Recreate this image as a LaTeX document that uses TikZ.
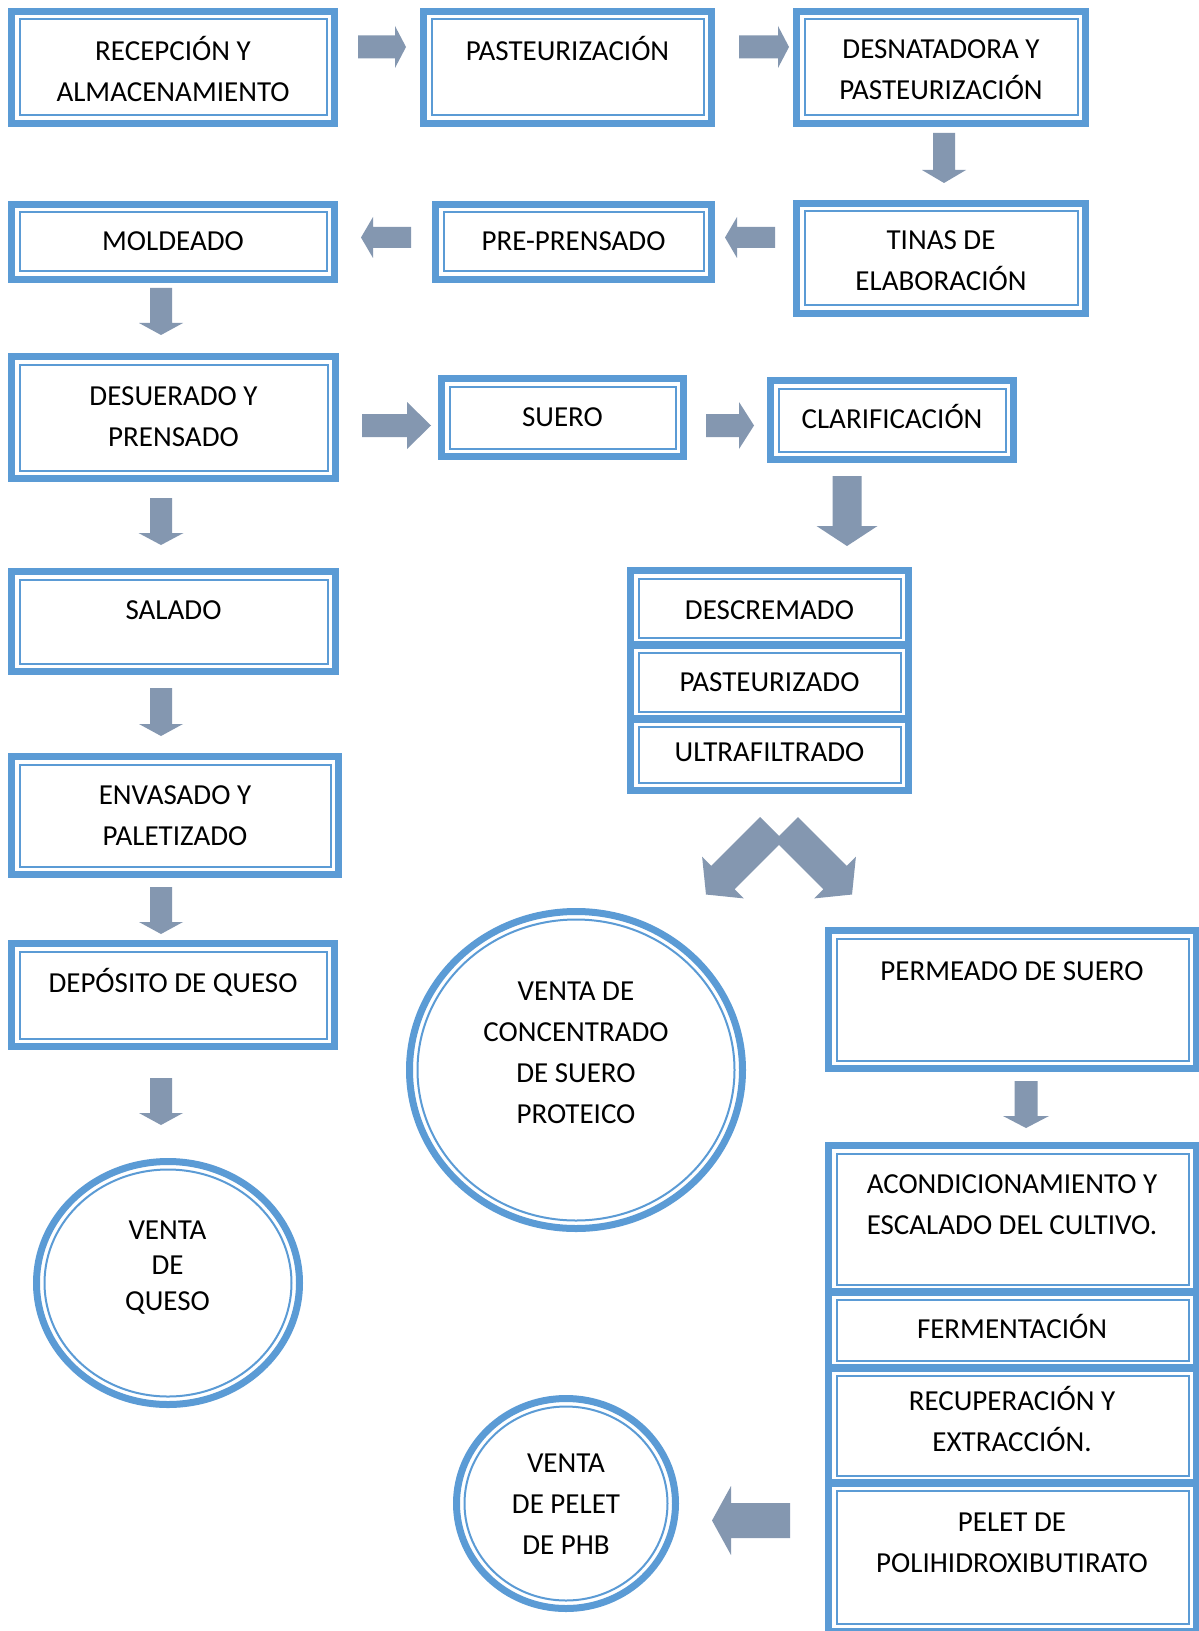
\documentclass[tikz,border=0pt]{standalone}
\usepackage{fontspec}
\setmainfont{Carlito}
\usetikzlibrary{fit,shapes.geometric,calc}
\definecolor{boxc}{HTML}{5B9BD5}
\definecolor{arrowc}{HTML}{8497B0}
\tikzset{
  box/.style={rectangle, draw=boxc, line width=3.5pt, inner sep=0pt, outer sep=0pt,
    path picture={\draw[boxc,line width=1pt]
      ([xshift=4pt,yshift=-4pt]path picture bounding box.north west) rectangle
      ([xshift=-4pt,yshift=4pt]path picture bounding box.south east);}},
  circ/.style={ellipse, draw=boxc, line width=3.5pt, inner sep=0pt, outer sep=0pt,
    path picture={\draw[boxc,line width=1pt]
      let \p1=(path picture bounding box.north east), \p2=(path picture bounding box.center) in
      (\p2) ellipse [x radius=\x1-\x2-4pt, y radius=\y1-\y2-4pt];}},
  txt/.style={inner sep=0pt, outer sep=0pt, anchor=north, align=center, text=black,
    font=\fontsize{14.5pt}{20.5pt}\selectfont},
  txtq/.style={txt, font=\fontsize{14.5pt}{17.75pt}\selectfont},
  pics/barrow/.style args={#1/#2/#3/#4}{code={
    \fill[arrowc] (0,-#2/2) -- (#1-#4,-#2/2) -- (#1-#4,-#3/2) -- (#1,0)
      -- (#1-#4,#3/2) -- (#1-#4,#2/2) -- (0,#2/2) -- cycle;}}
}
\newcommand\pbox[5]{%
  \pgfmathsetmacro\pbax{#2+3.5}\pgfmathsetmacro\pbay{#3+3.5}%
  \pgfmathsetmacro\pbbx{#4-3.5}\pgfmathsetmacro\pbby{#5-3.5}%
  \node[box, fit={(\pbax,\pbay) (\pbbx,\pbby)}] (#1) {};}
\newcommand\ptext[4]{\pgfmathsetmacro\pty{#3-28.7}\node[txt] (#1) at (#2,\pty) {\strut#4};}
\begin{document}
\begin{tikzpicture}[x=0.5pt,y=-0.5pt]
\useasboundingbox (0,0) rectangle (1198,1631);
\fill[white] (0,0) rectangle (1198,1631);
% boxes
\pbox{recep}{8}{8}{338}{127}
\pbox{pasteur}{420}{8}{715}{127}
\pbox{desnat}{793}{8}{1089}{127}
\pbox{mold}{8}{201}{338}{283}
\pbox{pre}{432}{201}{715}{283}
\pbox{tinas}{793}{200}{1089}{317}
\pbox{desuer}{8}{353}{339}{482}
\pbox{suero}{438}{375}{687}{460}
\pbox{clar}{767}{377}{1017}{463}
\pbox{salado}{8}{568}{339}{675}
\pbox{envas}{8}{753}{342}{878}
\pbox{depos}{8}{940}{338}{1050}
\pbox{descr}{627}{567}{912}{649}
\pbox{pastz}{627}{641}{912}{723}
\pbox{ultra}{627}{715}{912}{794}
\pbox{perm}{825}{927}{1200}{1072}
\pbox{acond}{825}{1142}{1200}{1296}
\pbox{ferm}{825}{1288}{1200}{1372}
\pbox{recup}{825}{1364}{1200}{1487}
\pbox{pelet}{825}{1479}{1200}{1635}
% circles
\node[circ, minimum width=131.5pt, minimum height=121.5pt] (queso) at (168,1283) {};
\node[circ, minimum width=166.5pt, minimum height=158.5pt] (conc) at (576,1070) {};
\node[circ, minimum width=109.5pt, minimum height=105pt] (phb) at (566,1503.5) {};
% texts
\ptext{t-recep}{173}{60.5}{RECEPCIÓN Y\\ALMACENAMIENTO}
\ptext{t-pasteur}{567.5}{60.5}{PASTEURIZACIÓN}
\ptext{t-desnat}{941}{58.5}{DESNATADORA Y\\PASTEURIZACIÓN}
\ptext{t-mold}{173}{251}{MOLDEADO}
\ptext{t-pre}{573.5}{251}{PRE-PRENSADO}
\ptext{t-tinas}{941}{250}{TINAS DE\\ELABORACIÓN}
\ptext{t-desuer}{173.5}{405}{DESUERADO Y\\PRENSADO}
\ptext{t-suero}{562.5}{426}{SUERO}
\ptext{t-clar}{892}{428}{CLARIFICACIÓN}
\ptext{t-salado}{173.5}{619}{SALADO}
\ptext{t-descr}{769.5}{619}{DESCREMADO}
\ptext{t-pastz}{769.5}{691}{PASTEURIZADO}
\ptext{t-ultra}{769.5}{761.5}{ULTRAFILTRADO}
\ptext{t-envas}{175}{804}{ENVASADO Y\\PALETIZADO}
\ptext{t-depos}{173}{992}{DEPÓSITO DE QUESO}
\ptext{t-conc}{576}{1000}{VENTA DE\\CONCENTRADO\\DE SUERO\\PROTEICO}
\ptext{t-perm}{1012}{980}{PERMEADO DE SUERO}
\ptext{t-acond}{1012}{1193}{ACONDICIONAMIENTO Y\\ESCALADO DEL CULTIVO.}
\ptext{t-ferm}{1012}{1338}{FERMENTACIÓN}
\ptext{t-recup}{1012}{1410.5}{RECUPERACIÓN Y\\EXTRACCIÓN.}
\ptext{t-pelet}{1012}{1531}{PELET DE\\POLIHIDROXIBUTIRATO}
\ptext{t-phb}{566}{1472}{VENTA\\DE PELET\\DE PHB}
\node[txtq] (t-queso) at (167.5,1214.15) {\strut VENTA\\DE\\QUESO};
% block arrows
\pic at (358,47) {barrow=48/23/42/11};
\pic at (739,47) {barrow=50/23/42/11};
\pic[rotate=-90] at (944,133) {barrow=50/22/44/13};
\pic[rotate=180] at (775,237.5) {barrow=50/21/41/12};
\pic[rotate=180] at (411,237.5) {barrow=50/21/41/12};
\pic[rotate=-90] at (161,288) {barrow=47/22/44/12};
\pic at (362,425.5) {barrow=69/23/47/24};
\pic at (706,425.5) {barrow=48/23/47/15};
\pic[rotate=-90] at (161,498) {barrow=47/22/45/12};
\pic[rotate=-90] at (847,476) {barrow=70/29/61/20};
\pic[rotate=-90] at (161,688) {barrow=48/22/44/12};
\pic[rotate=-90] at (161,887) {barrow=47/22/44/12};
\pic[rotate=-90] at (161,1078) {barrow=47/22/44/12};
\pic[rotate=-90] at (1026,1081) {barrow=47/23/46/12};
\pic[rotate=180] at (790,1520.5) {barrow=78/35/69/19};
\pic[rotate=-135] at (771.75,828.75) {barrow=93/33/59/24};
\pic[rotate=-45] at (786.25,828.75) {barrow=93/33/59/24};
\end{tikzpicture}
\end{document}
